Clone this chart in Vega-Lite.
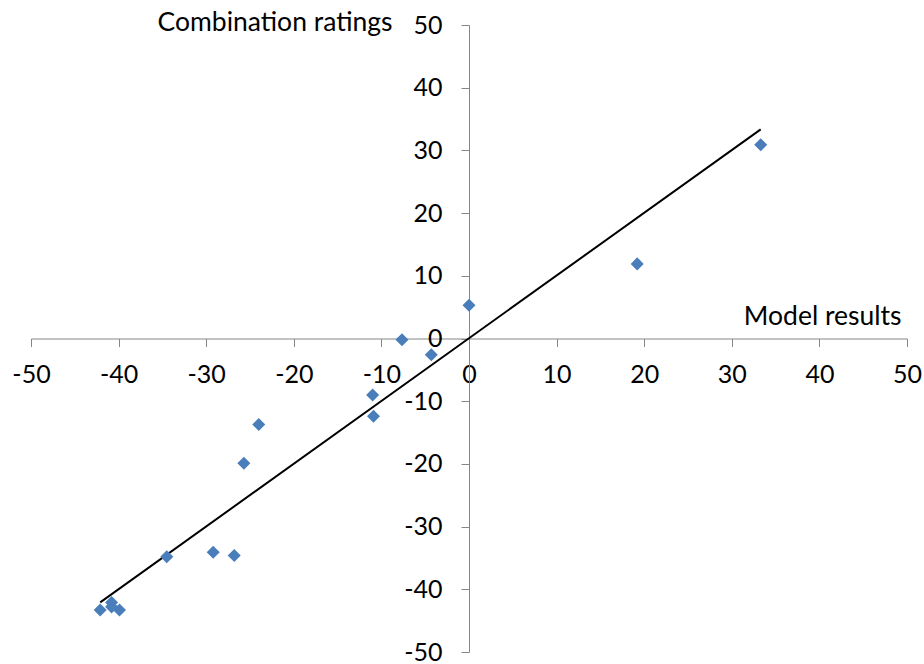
{
  "$schema": "https://vega.github.io/schema/vega-lite/v6.json",
  "width": 876,
  "height": 627,
  "autosize": {"type": "none"},
  "padding": {"left": 31, "top": 25, "right": 17, "bottom": 12},
  "background": "white",
  "config": {
    "view": {"stroke": null},
    "font": "Lato",
    "axis": {
      "grid": false,
      "domainColor": "#868686",
      "tickColor": "#868686",
      "domainWidth": 1,
      "tickWidth": 1,
      "tickSize": 8,
      "labelFont": "Lato",
      "labelFontSize": 25,
      "labelColor": "#000000",
      "labelFlush": false,
      "labelOverlap": false,
      "labelBound": false,
      "labelExpr": "replace(datum.label, '\u2212', '-')",
      "titleFont": "Lato",
      "titleFontSize": 26.5,
      "titleFontWeight": "normal",
      "titleColor": "#000000"
    }
  },
  "data": {
    "values": [
      {"model": -42.1, "rating": -43.3},
      {"model": -40.8, "rating": -42.1},
      {"model": -40.8, "rating": -42.8},
      {"model": -39.9, "rating": -43.3},
      {"model": -34.5, "rating": -34.8},
      {"model": -29.2, "rating": -34.1},
      {"model": -26.8, "rating": -34.6},
      {"model": -25.7, "rating": -19.9},
      {"model": -24.0, "rating": -13.7},
      {"model": -11.0, "rating": -9.0},
      {"model": -10.9, "rating": -12.4},
      {"model": -7.65, "rating": -0.2},
      {"model": -4.3, "rating": -2.6},
      {"model": 0.0, "rating": 5.3},
      {"model": 19.2, "rating": 11.9},
      {"model": 33.3, "rating": 30.9}
    ]
  },
  "layer": [
    {
      "transform": [{"regression": "rating", "on": "model"}],
      "mark": {"type": "line", "color": "#000000", "strokeWidth": 2},
      "encoding": {
        "x": {
          "field": "model",
          "type": "quantitative",
          "scale": {"domain": [-50, 50], "nice": false, "zero": false},
          "axis": {
            "orient": "bottom",
            "offset": -313.5,
            "values": [-50, -40, -30, -20, -10, 0, 10, 20, 30, 40, 50],
            "labelPadding": 16,
            "title": "Model results",
            "titleX": 870,
            "titleY": -14.5,
            "titleAlign": "right",
            "titleBaseline": "alphabetic",
            "titleAngle": 0
          }
        },
        "y": {
          "field": "rating",
          "type": "quantitative",
          "scale": {"domain": [-50, 50], "nice": false, "zero": false},
          "axis": {
            "orient": "left",
            "offset": -438,
            "values": [-50, -40, -30, -20, -10, 0, 10, 20, 30, 40, 50],
            "labelPadding": 19,
            "title": "Combination ratings",
            "titleX": -77,
            "titleY": 5,
            "titleAlign": "right",
            "titleBaseline": "alphabetic",
            "titleAngle": 0
          }
        }
      }
    },
    {
      "mark": {"type": "point", "shape": "diamond", "filled": true, "color": "#4a7ebb", "opacity": 1, "size": 170},
      "encoding": {
        "x": {"field": "model", "type": "quantitative"},
        "y": {"field": "rating", "type": "quantitative"}
      }
    }
  ]
}
